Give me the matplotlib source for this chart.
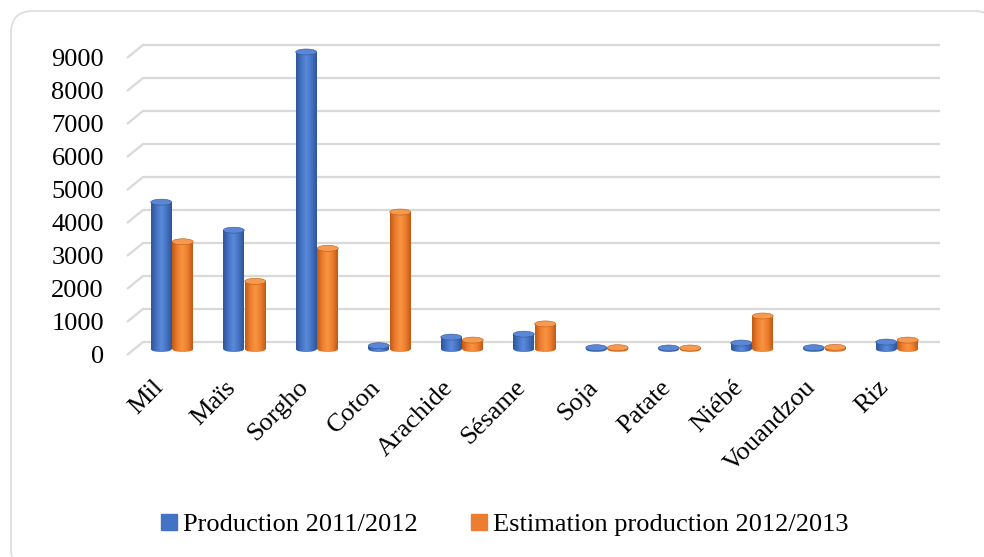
import numpy as np
import matplotlib
matplotlib.use("Agg")
import matplotlib.pyplot as plt
from matplotlib.patches import Ellipse, FancyBboxPatch, Patch
from matplotlib.colors import LinearSegmentedColormap

# data
categories = ["Mil", "Maïs", "Sorgho", "Coton", "Arachide", "Sésame",
              "Soja", "Patate", "Niébé", "Vouandzou", "Riz"]
prod_2011 = [4450, 3600, 9000, 100, 360, 450, 40, 30, 180, 40, 210]
estim_2012 = [3250, 2050, 3050, 4150, 270, 760, 40, 30, 1000, 50, 270]
series_names = ["Production 2011/2012", "Estimation production 2012/2013"]
y_ticks = [0, 1000, 2000, 3000, 4000, 5000, 6000, 7000, 8000, 9000]

W, H = 984, 557
plt.rcParams["font.family"] = ["Liberation Serif", "DejaVu Serif"]
FS = 19

fig = plt.figure(figsize=(W / 100, H / 100), dpi=100)

# background axes in pixel units for the rounded chart frame
bg = fig.add_axes([0, 0, 1, 1])
bg.set_xlim(0, W)
bg.set_ylim(H, 0)
bg.axis("off")
bg.add_patch(FancyBboxPatch((11, 11), 985, 560, boxstyle="round,pad=0,rounding_size=22",
                            fc="white", ec="#dcdcdc", lw=1.2))

# pixel geometry of the plot area (bar plane)
X0, DX = 172.0, 72.5      # px of first category centre, px per category
Y0, DY = 349.0, 0.033     # px of value 0, px per unit value
L, R, T, B = 110, 950, 25, 380

ax = fig.add_axes([L / W, 1 - B / H, (R - L) / W, (B - T) / H])
ax.axis("off")

back = 7 / DY      # back wall is 7 px above bar plane
front = -6 / DY    # front edge is 6 px below
x_front = (127 - X0) / DX
x_back = (143 - X0) / DX
x_end = (940 - X0) / DX

for v in y_ticks:
    ax.plot([x_front, x_back, x_end], [v + front, v + back, v + back],
            color="#d9d9d9", lw=1.6, zorder=1, solid_capstyle="butt")
    ax.text((104 - X0) / DX, v - 8 / DY, str(v), ha="right", va="center",
            fontsize=FS, color="black")

x = np.arange(len(categories))
bw = 21 / DX
off = 10.75 / DX
eh = 6 / DY   # ellipse height in value units

grad = np.linspace(0, 1, 64).reshape(1, -1)


def cylinders(xs, vals, base, dark, light, top, z):
    cmap = LinearSegmentedColormap.from_list("c", [dark, base, light, base, dark])
    bars = ax.bar(xs, vals, width=bw, color="none", edgecolor="none", zorder=z)
    for rect, xc, v in zip(bars, xs, vals):
        x0 = xc - bw / 2
        bot = Ellipse((xc, 0), bw, eh, fc="none", ec="none", zorder=z)
        ax.add_patch(bot)
        for clip in (rect, bot):
            im = ax.imshow(grad, cmap=cmap, aspect="auto", extent=[x0, x0 + bw, -eh, v + eh],
                           interpolation="bicubic", zorder=z)
            im.set_clip_path(clip)
        ax.add_patch(Ellipse((xc, v), bw, eh, fc=top, ec=dark, lw=0.4, zorder=z + 0.1))


for i in range(len(categories)):
    cylinders([x[i] - off], [prod_2011[i]], "#4472C4", "#2F5597", "#5B8BDB", "#5A86D6", 3 + i)
    cylinders([x[i] + off], [estim_2012[i]], "#ED7D31", "#C05A12", "#F8953F", "#F59A4E", 3.5 + i)

ax.set_xlim((L - X0) / DX, (R - X0) / DX)
ax.set_ylim((Y0 - B) / DY, (Y0 - T) / DY)

for i, name in enumerate(categories):
    ax.text(x[i] - 12 / DX, (Y0 - 384) / DY, name, rotation=45, rotation_mode="anchor",
            ha="right", va="center", fontsize=FS, clip_on=False)

handles = [Patch(color="#4472C4"), Patch(color="#ED7D31")]
fig.legend(handles, series_names, loc="center", bbox_to_anchor=(505 / W, 1 - 525 / H),
           ncol=2, frameon=False, fontsize=FS, handlelength=0.6, handleheight=0.6,
           handletextpad=0.25, columnspacing=2.0)

fig.savefig("out.png", dpi=100)
